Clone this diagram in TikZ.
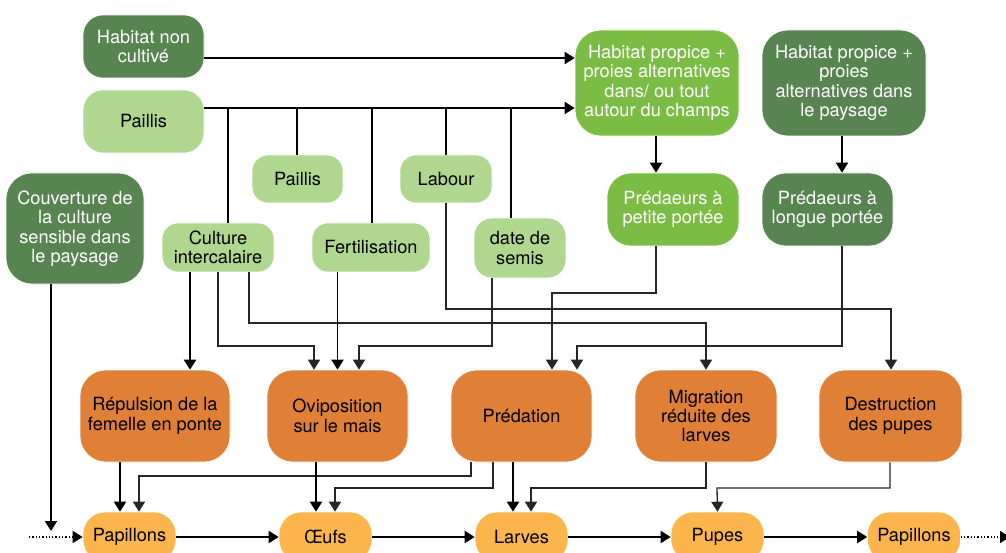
\documentclass[tikz,border=0pt]{standalone}
\usepackage{fontspec}
\setmainfont{TeX Gyre Heros}
\usetikzlibrary{arrows.meta}
\definecolor{darkgreen}{RGB}{87,132,80}
\definecolor{lightgreen}{RGB}{176,215,144}
\definecolor{midgreen}{RGB}{123,189,68}
\definecolor{effectorange}{RGB}{224,127,54}
\definecolor{stageyellow}{RGB}{251,181,76}
\begin{document}
\begin{tikzpicture}[
    x=1pt, y=-1pt,
    box/.style={rounded corners=20pt, inner sep=0pt, align=center,
        font=\fontsize{18.2}{19.4}\selectfont, draw=white, line width=0.6pt},
    darkbox/.style={box, fill=darkgreen, text=white},
    lightbox/.style={box, fill=lightgreen},
    midbox/.style={box, fill=midgreen, text=white},
    effectbox/.style={box, fill=effectorange, rounded corners=26pt,
        minimum height=92pt},
    stagebox/.style={box, fill=stageyellow, rounded corners=22pt,
        minimum width=93pt, minimum height=50pt},
    mainarrow/.style={-{Triangle[length=10pt,width=12pt]}, line width=1.9pt},
    sidearrow/.style={-{Triangle[length=10pt,width=12pt]}, line width=1.3pt, black!85},
    link/.style={line width=1.9pt}
]
    \useasboundingbox (0,0) rectangle (1006,553);
    \clip (0,0) rectangle (1006,553);

    % Practices and landscape
    \node[darkbox, minimum width=121pt, minimum height=63pt] (noncult) at (143.5,46.5) {Habitat non\\cultivé};
    \node[lightbox, minimum width=121pt, minimum height=63pt] (paillisA) at (143.5,121.5) {Paillis};
    \node[darkbox, minimum width=138pt, minimum height=111pt, rounded corners=26pt] (couv) at (75,228.5)
        {Couverture de\\la culture\\sensible dans\\le paysage};
    \node[lightbox, minimum width=91pt, minimum height=48pt, rounded corners=16pt] (paillisB) at (297.5,179) {Paillis};
    \node[lightbox, minimum width=92pt, minimum height=48pt, rounded corners=16pt] (labour) at (446,179) {Labour};
    \node[lightbox, minimum width=112pt, minimum height=49pt, rounded corners=16pt] (cult) at (218,247.5) {Culture\\intercalaire};
    \node[lightbox, minimum width=118pt, minimum height=49pt, rounded corners=16pt] (fert) at (371,247.5) {Fertilisation};
    \node[lightbox, minimum width=92pt, minimum height=60pt, rounded corners=18pt] (semis) at (520,248) {date de\\semis};

    % Habitats and predators
    \node[midbox, minimum width=164pt, minimum height=106pt, rounded corners=26pt] (habloc) at (657,83)
        {Habitat propice +\\proies alternatives\\dans/ ou tout\\autour du champs};
    \node[darkbox, minimum width=164pt, minimum height=106pt, rounded corners=26pt] (habpay) at (844,83)
        {Habitat propice +\\proies\\alternatives dans\\le paysage};
    \node[midbox, minimum width=132pt, minimum height=73pt, rounded corners=24pt] (predpet) at (673,209.5) {Prédaeurs à\\petite portée};
    \node[darkbox, minimum width=131pt, minimum height=73pt, rounded corners=24pt] (predlong) at (827.5,209.5) {Prédaeurs à\\longue portée};

    % Effects
    \node[effectbox, minimum width=150pt] (repul) at (155,416) {Répulsion de la\\femelle en ponte};
    \node[effectbox, minimum width=141pt] (ovip) at (337.5,416) {Oviposition\\sur le mais};
    \node[effectbox, minimum width=141pt] (preda) at (521.5,416) {Prédation};
    \node[effectbox, minimum width=142pt] (migr) at (706,416) {Migration\\réduite des\\larves};
    \node[effectbox, minimum width=143pt] (destr) at (890.5,416) {Destruction\\des pupes};

    % Life cycle
    \node[stagebox] (pap1) at (129.5,537) {Papillons};
    \node[stagebox] (oeufs) at (325.5,537) {Œufs};
    \node[stagebox] (larves) at (521.5,537) {Larves};
    \node[stagebox] (pupes) at (717.5,537) {Pupes};
    \node[stagebox] (pap2) at (914,537) {Papillons};
    \coordinate (cyclein) at (29,537);
    \coordinate (cycleout) at (1010,537);

    % Habitat links
    \draw[mainarrow] (noncult.east |- 0,58) -- (habloc.west |- 0,58);
    \draw[mainarrow] (paillisA.east |- 0,108) -- (habloc.west |- 0,108);
    \foreach \n/\x in {cult/228, paillisB/297, fert/372, labour/446, semis/511}
        \draw[link] (\n.north -| \x,0) -- (\x,108);
    \draw[mainarrow] (habloc.south -| 656,0) -- (predpet.north -| 656,0);
    \draw[mainarrow] (habpay.south -| 842,0) -- (predlong.north -| 842,0);

    % Practices to effects
    \draw[mainarrow] (cult.south -| 190,0) -- (repul.north -| 190,0);
    \draw[sidearrow] (cult.south -| 218,0) |- (314,346) -- (ovip.north -| 314,0);
    \draw[sidearrow] (cult.south -| 249,0) |- (706,323) -- (migr.north);
    \draw[mainarrow] (fert.south -| ovip.north) -- (ovip.north);
    \draw[sidearrow] (semis.south -| 492,0) |- (359,346) -- (ovip.north -| 359,0);
    \draw[sidearrow] (labour.south) |- (891,309) -- (destr.north -| 891,0);
    \draw[sidearrow] (predpet.south -| 656,0) |- (552,293) -- (preda.north -| 552,0);
    \draw[sidearrow] (predlong.south -| 842,0) |- (577,346) -- (preda.north -| 577,0);
    \draw[mainarrow] (couv.south -| 51,0) -- (51,531);

    % Effects to life cycle
    \draw[mainarrow] (repul.south -| 120,0) -- (pap1.north -| 120,0);
    \draw[sidearrow] (preda.south -| 471,0) |- (139,476) -- (pap1.north -| 139,0);
    \draw[mainarrow] (ovip.south -| 316,0) -- (oeufs.north -| 316,0);
    \draw[sidearrow] (preda.south -| 493,0) |- (335,488) -- (oeufs.north -| 335,0);
    \draw[mainarrow] (preda.south -| 513,0) -- (larves.north -| 513,0);
    \draw[sidearrow] (migr.south) |- (531,488) -- (larves.north -| 531,0);
    \draw[sidearrow] (destr.south -| 890,0) |- (717,488) -- (pupes.north);

    % Cycle
    \draw[sidearrow, black, dotted] (cyclein) -- (pap1.west);
    \foreach \a/\b in {pap1/oeufs, oeufs/larves, larves/pupes, pupes/pap2}
        \draw[mainarrow] (\a) -- (\b);
    \draw[sidearrow, black, dotted] (pap2.east) -- (cycleout);
\end{tikzpicture}
\end{document}
